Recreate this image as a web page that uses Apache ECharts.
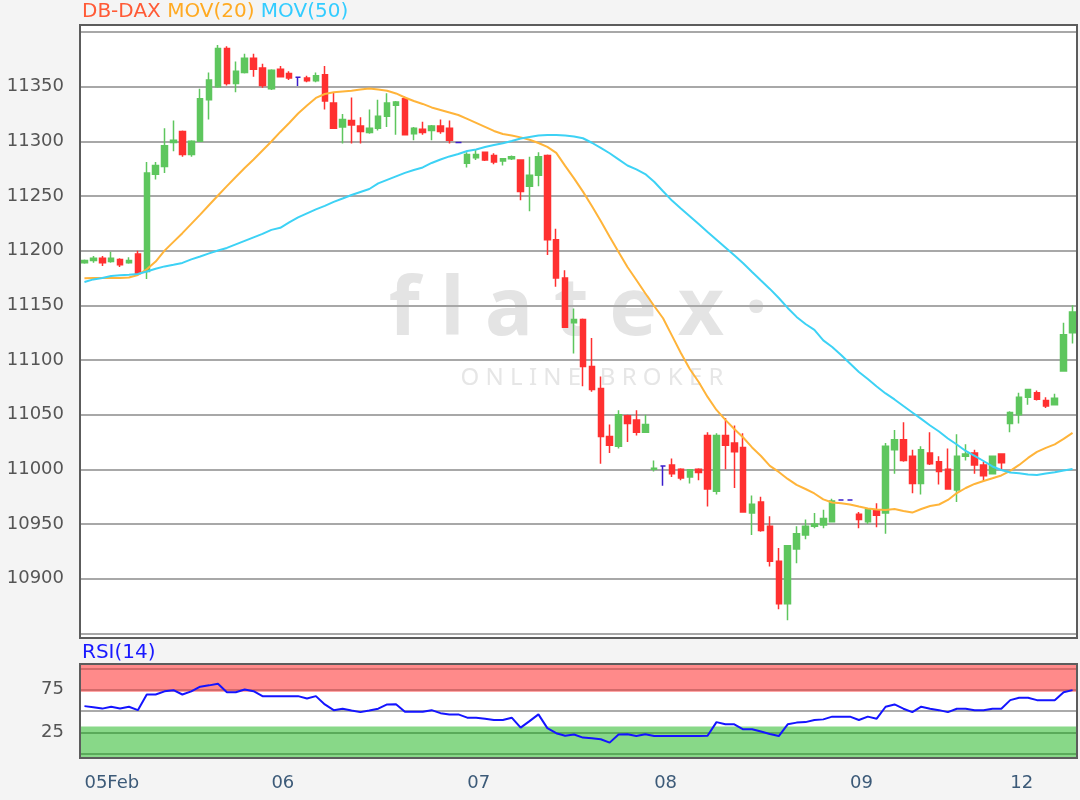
<!DOCTYPE html>
<html>
<head>
<meta charset="utf-8">
<title>DB-DAX</title>
<script src="https://cdn.jsdelivr.net/npm/echarts@6.0.0/dist/echarts.min.js"></script>
<style>
  html, body { margin: 0; padding: 0; background: #f4f4f4; }
  #chart { width: 1080px; height: 800px; }
</style>
</head>
<body>
<div id="chart"></div>
<script>
// trading days shown on the axis and how many candles each one has
const dayLabels = ['05Feb', '06', '07', '08', '09', '12']
const dayCounts = [21, 22, 21, 22, 18, 8]

// [open, close, low, high]
const candles = [
  [11189, 11191, 11188, 11192], [11191, 11193, 11189, 11195], [11193, 11189, 11186, 11195], [11190, 11193, 11189, 11199],
  [11192, 11187, 11185, 11193], [11189, 11191, 11188, 11194], [11197, 11179, 11178, 11200], [11181, 11271, 11174, 11281],
  [11270, 11278, 11265, 11281], [11277, 11296, 11271, 11312], [11299, 11301, 11291, 11319], [11309, 11288, 11286, 11310],
  [11288, 11300, 11286, 11301], [11300, 11339, 11300, 11348], [11338, 11356, 11320, 11363], [11350, 11385, 11349, 11388],
  [11385, 11353, 11351, 11387], [11353, 11364, 11345, 11373], [11363, 11376, 11362, 11380], [11376, 11366, 11359, 11380],
  [11367, 11351, 11349, 11371],
  [11348, 11365, 11347, 11366], [11366, 11359, 11359, 11369], [11362, 11358, 11356, 11364], [11358.5, 11358.5, 11350.5, 11358.5],
  [11358, 11355.5, 11354, 11360], [11355.5, 11360, 11354, 11363], [11361, 11337, 11329, 11369], [11335, 11312, 11312, 11345],
  [11313, 11320, 11298, 11325], [11319, 11315, 11298, 11340], [11314, 11309, 11298, 11322], [11308, 11312, 11307, 11329],
  [11312, 11323, 11310, 11338], [11323, 11335, 11313, 11344], [11333, 11336, 11306, 11337], [11339, 11306, 11306, 11341],
  [11307, 11312, 11301, 11313], [11311, 11308, 11306, 11318], [11310, 11314, 11301, 11315], [11314, 11309, 11307, 11320],
  [11312, 11301, 11298, 11319], [11299, 11299, 11299, 11299],
  [11280, 11288, 11276, 11290], [11285, 11288, 11283, 11292], [11290, 11283, 11282, 11290], [11287, 11281, 11279, 11289],
  [11282, 11284, 11278, 11284], [11284, 11286, 11283, 11287], [11283, 11254, 11246, 11283], [11259, 11269, 11236, 11286],
  [11269, 11286, 11259, 11290], [11287, 11210, 11196, 11288], [11210, 11175, 11167, 11220], [11175, 11130, 11130, 11182],
  [11134, 11137, 11106, 11147], [11137, 11094, 11076, 11138], [11094, 11073, 11071, 11120], [11074, 11030, 11005, 11085],
  [11030, 11022, 11015, 11041], [11021, 11050, 11019, 11054], [11049, 11042, 11025, 11050], [11045, 11034, 11031, 11054],
  [11034, 11041, 11034, 11050],
  [11000, 11001, 10998, 11008], [11003, 11003, 10985, 11003], [11004, 10996, 10993, 11010], [11000, 10992, 10990, 11001],
  [10993, 10999.5, 10987, 11000], [11000, 10997, 10990, 11001], [11031, 10982, 10966, 11034], [10980, 11031, 10977, 11033],
  [11031, 11022, 11000, 11047], [11024, 11016, 10983, 11040], [11020, 10961, 10961, 11033], [10960, 10968, 10940, 10976],
  [10970, 10944, 10943, 10975], [10948, 10916, 10911, 10957], [10916, 10877, 10872, 10928], [10877, 10930, 10862, 10930],
  [10927, 10941, 10914, 10948], [10940, 10948, 10936, 10954], [10948, 10950, 10946, 10960], [10949, 10955, 10946, 10963],
  [10952, 10971, 10952, 10973], [10972, 10972, 10972, 10972],
  [10972, 10972, 10972, 10972],
  [10959, 10954, 10946, 10961], [10952, 10963, 10950, 10964], [10963, 10958, 10947, 10969], [10960, 11021, 10941, 11024],
  [11018, 11027, 10996, 11036], [11027, 11008, 11007, 11043], [11012, 10987, 10978, 11018], [10987, 11018, 10977, 11021],
  [11015, 11005, 11004, 11034], [11007, 10998, 10986, 11012], [11000, 10982, 10982, 11019], [10981, 11012, 10970, 11032],
  [11012, 11014, 11008, 11023], [11015, 11004, 10996, 11018], [11004, 10994, 10989, 11007], [10996, 11012, 10996, 11012],
  [11014, 11006, 11000, 11014],
  [11042, 11052, 11034, 11053], [11050, 11066, 11042, 11070], [11066, 11073, 11059, 11073], [11070, 11064, 11063, 11072],
  [11063, 11058, 11056, 11066], [11059, 11065, 11059, 11069], [11090, 11123, 11090, 11134], [11125, 11144, 11115, 11150]
]

// moving averages as printed on the chart
const ma20 = [
  11174.8, 11175, 11175, 11175, 11175, 11175.5, 11177.8, 11183, 11190, 11200,
  11208, 11216, 11224.5, 11233, 11241.8, 11250.5, 11259, 11267.4, 11275.6, 11283.4,
  11291.6, 11299.8, 11308.6, 11316.8, 11325.5, 11332.8, 11339.7, 11343.3, 11344.9, 11345.6,
  11346.3, 11347.4, 11348.4, 11347.4, 11346.3, 11343.8, 11340.1, 11336.9, 11334.2, 11331,
  11328.7, 11326.4, 11324.1, 11320.5, 11316.9, 11313.2, 11309.5, 11306.7, 11305.4, 11303.6,
  11301.4, 11298.5, 11294.9, 11289.4, 11277.5, 11266.1, 11254, 11240.9, 11227.2, 11212.8,
  11198.8, 11185.1, 11173.2, 11161, 11149.4, 11138.2, 11122.3, 11106.4, 11091.8, 11079.9,
  11066.2, 11054.3, 11045.2, 11036.9, 11029.1, 11020, 11012.2, 11003.1, 10997.6, 10991.2,
  10985.7, 10982, 10977.9, 10972.5, 10969.7, 10968.9, 10967.9, 10966, 10964.2, 10963.3,
  10962.8, 10963.7, 10961.9, 10960.4, 10963.7, 10966.5, 10967.8, 10972, 10978.3, 10982.9,
  10986.6, 10989.3, 10991.8, 10994.4, 10998.5, 11004, 11010.4, 11015.9, 11019.6, 11022.8,
  11027.8, 11033.3
]
const ma50 = [
  11171.3, 11173.7, 11175, 11176.9, 11177.5, 11178, 11178.7, 11181, 11183.5, 11185.6,
  11187.1, 11188.8, 11192, 11194.7, 11197.5, 11200.2, 11202.5, 11205.7, 11208.9, 11212.1,
  11215.3, 11219, 11220.9, 11225.8, 11230.4, 11234.1, 11237.7, 11240.9, 11244.6, 11247.7,
  11250.9, 11253.7, 11256.4, 11261.5, 11264.7, 11267.9, 11271.1, 11273.8, 11276.1, 11280.2,
  11283.4, 11286.2, 11288.4, 11291.2, 11292.6, 11294.8, 11296.7, 11298.2, 11300.3, 11302.6,
  11304, 11305.4, 11305.8, 11305.8, 11305.4, 11304.5, 11302.8, 11298.7, 11294.1, 11289.1,
  11283.5, 11277.9, 11274.4, 11270.1, 11263, 11254.3, 11245.8, 11238.6, 11231.5, 11224.3,
  11217.1, 11210, 11202.9, 11195.8, 11188.5, 11180.5, 11172.7, 11165, 11156.7, 11147.6,
  11139.4, 11132.9, 11127.5, 11117.9, 11111.9, 11104.6, 11096.8, 11089, 11082.6, 11075.8,
  11069.4, 11063.9, 11057.9, 11052, 11046.1, 11040.1, 11034.6, 11028.2, 11022.7, 11016.8,
  11012.2, 11007.6, 11002.6, 10999.4, 10997.1, 10996.4, 10995.3, 10994.8, 10996.2, 10997.3,
  10998.9, 11000.3
]
const rsi14 = [
  55.7, 54.5, 52.8, 55, 53, 55, 51, 69.3, 69.3, 73,
  74.4, 69.3, 73, 78.5, 80, 81.8, 72, 72, 75.2, 73.2,
  67.4, 67.4, 67.4, 67.4, 67.4, 64.7, 67.4, 57.7, 51, 52.7,
  50.5, 48.7, 50.5, 52.7, 57.7, 58, 49.2, 49.2, 49.2, 51,
  47.5, 46, 46, 42.2, 42.2, 41, 39.4, 39.4, 42.2, 30.5,
  38.2, 46, 30, 24, 21, 22.5, 18.9, 18, 17, 13,
  22.5, 22.7, 20.7, 22.7, 20.7, 20.7, 20.7, 20.7, 20.7, 20.7,
  21, 37, 34.4, 34.4, 28.6, 28.6, 26, 23, 20.7, 34.4,
  36.4, 37, 39.4, 40.2, 43.4, 43.4, 43.4, 39.4, 43.4, 41,
  55, 57.7, 52.7, 48.7, 55, 52.7, 51, 48.7, 52.7, 52.7,
  51, 51, 52.7, 52.7, 62.7, 65.5, 65.5, 62.7, 62.7, 62.7,
  72, 74.4
]
const rsiLevels = [0, 25, 50, 75, 100]

const FONT = 'DejaVu Sans'
const UP = '#5ec65e'
const DOWN = '#ff3030'
const DOJI = '#3a1ccc'

// one category per candle, the first of each day carries the day label
const categories = []
const dayStart = {}
dayLabels.forEach((d, i) => {
  dayStart[categories.length] = d
  for (let k = 0; k < dayCounts[i]; k++) categories.push(d + ' ' + (k + 1))
})
const isDayStart = (idx) => dayStart[idx] !== undefined

const candleData = candles.map(([o, c, l, h]) => {
  if (o !== c) return [o, c, l, h]
  return { value: [o, c, l, h], itemStyle: { color: DOJI, color0: DOJI, borderColor: DOJI, borderColor0: DOJI } }
})

const lineColors = { 0: '#5aaa5a', 25: '#5aaa5a', 50: '#aaaaaa', 75: '#d46a6a', 100: '#d46a6a' }

const chart = echarts.init(document.getElementById('chart'))
chart.setOption({
  backgroundColor: '#f4f4f4',
  animation: false,
  title: [
    {
      text: '{a|DB-DAX} {b|MOV(20)} {c|MOV(50)}',
      left: 82, top: 2, padding: 0,
      textStyle: {
        fontSize: 20, fontFamily: FONT, fontWeight: 'normal',
        rich: {
          a: { color: '#ff5a36', fontSize: 20, fontFamily: FONT },
          b: { color: '#ffaa22', fontSize: 20, fontFamily: FONT },
          c: { color: '#33ccff', fontSize: 20, fontFamily: FONT }
        }
      }
    },
    {
      text: 'RSI(14)', left: 82, top: 643, padding: 0,
      textStyle: { color: '#1a1aff', fontSize: 20, fontFamily: FONT, fontWeight: 'normal' }
    }
  ],
  graphic: [
    // plot backgrounds
    { type: 'rect', z: -3, shape: { x: 80, y: 25, width: 997, height: 613 }, style: { fill: '#ffffff' } },
    { type: 'rect', z: -3, shape: { x: 80, y: 664, width: 997, height: 94 }, style: { fill: '#ffffff' } },
    // watermark
    {
      type: 'text', z: -1, x: 578, y: 312,
      style: { text: 'f l a t e x ·', fontSize: 80, fontWeight: 'bold', fontFamily: 'Noto Sans', fill: '#e4e4e4', align: 'center', verticalAlign: 'middle', textAlign: 'center', textVerticalAlign: 'middle' }
    },
    {
      type: 'text', z: -1, x: 592, y: 378,
      style: { text: 'O N L I N E   B R O K E R', fontSize: 24, fontFamily: 'Noto Sans', fill: '#e6e6e6', align: 'center', verticalAlign: 'middle', textAlign: 'center', textVerticalAlign: 'middle' }
    },
    // frames
    { type: 'rect', z: 10, shape: { x: 80, y: 25, width: 997, height: 613 }, style: { fill: 'none', stroke: '#5c5c5c', lineWidth: 2 } },
    { type: 'rect', z: 10, shape: { x: 80, y: 664, width: 997, height: 94 }, style: { fill: 'none', stroke: '#5c5c5c', lineWidth: 2 } }
  ],
  grid: [
    { left: 80, right: 3, top: 32, height: 601.3 },
    { left: 80, right: 3, top: 664, height: 94 }
  ],
  xAxis: [
    {
      type: 'category', gridIndex: 0, data: categories, boundaryGap: true,
      axisLine: { show: false }, axisTick: { show: false }, axisLabel: { show: false }
    },
    {
      type: 'category', gridIndex: 1, data: categories, boundaryGap: true,
      axisLine: { show: false },
      axisTick: { alignWithLabel: true, interval: (i) => isDayStart(i), length: 8, lineStyle: { color: '#3c5a78', width: 2 } },
      axisLabel: {
        interval: (i) => isDayStart(i), formatter: (v, i) => dayStart[i] || '',
        align: 'left', margin: 16, color: '#3c5a78', fontSize: 18, fontFamily: FONT
      }
    }
  ],
  yAxis: [
    {
      type: 'value', gridIndex: 0, min: 10850, max: 11400, interval: 50,
      axisLine: { show: false },
      axisTick: { length: 8, lineStyle: { color: '#666', width: 2 } },
      axisLabel: {
        margin: 16, color: '#555', fontSize: 18, fontFamily: FONT,
        formatter: (v) => (v > 10850 && v < 11400) ? String(v) : ''
      },
      splitLine: { lineStyle: { color: '#a8a8a8', width: 2 } }
    },
    {
      type: 'value', gridIndex: 1, min: -5, max: 105,
      axisLine: { show: false },
      axisTick: { customValues: [25, 75], length: 5, lineStyle: { color: '#666', width: 2 } },
      axisLabel: { customValues: [25, 75], margin: 16, color: '#555', fontSize: 18, fontFamily: FONT },
      splitLine: { show: false }
    }
  ],
  series: [
    {
      name: 'DB-DAX', type: 'candlestick', xAxisIndex: 0, yAxisIndex: 0,
      data: candleData, barWidth: 6,
      itemStyle: { color: UP, color0: DOWN, borderColor: UP, borderColor0: DOWN, borderColorDoji: DOJI, borderWidth: 1.5 }
    },
    {
      name: 'MOV(20)', type: 'line', xAxisIndex: 0, yAxisIndex: 0, data: ma20,
      symbol: 'none', silent: true, lineStyle: { color: '#ffb43a', width: 2 }
    },
    {
      name: 'MOV(50)', type: 'line', xAxisIndex: 0, yAxisIndex: 0, data: ma50,
      symbol: 'none', silent: true, lineStyle: { color: '#3dd2f5', width: 2 }
    },
    {
      name: 'RSI(14)', type: 'line', xAxisIndex: 1, yAxisIndex: 1, data: rsi14, z: 3,
      symbol: 'none', silent: true, lineStyle: { color: '#1414ff', width: 2 },
      markArea: {
        silent: true, z: 0.5,
        data: [
          [{ yAxis: 72.5, itemStyle: { color: '#ff8a8a' } }, { yAxis: 105 }],
          [{ yAxis: -5, itemStyle: { color: '#88d888' } }, { yAxis: 32 }]
        ]
      },
      markLine: {
        silent: true, z: 1, symbol: 'none', label: { show: false },
        data: rsiLevels.map(v => ({ yAxis: v, lineStyle: { color: lineColors[v], width: 2, type: 'solid' } }))
      }
    }
  ]
})
</script>
</body>
</html>
